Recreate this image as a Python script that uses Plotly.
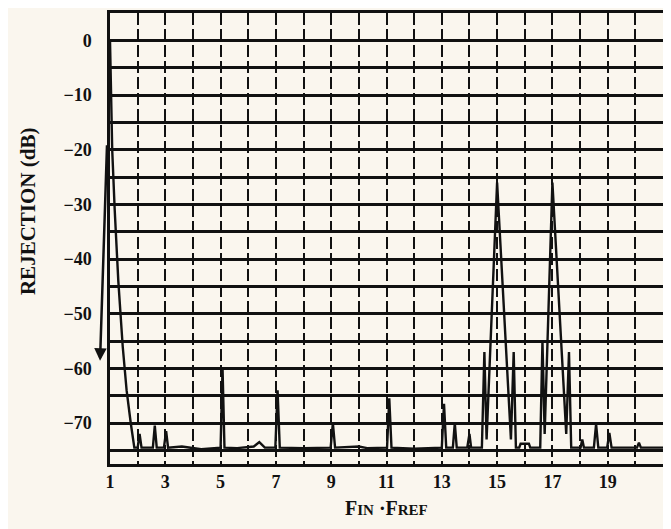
import plotly.graph_objects as go

# ---- data ----
freq_ratio = [1.00, 1.03, 1.08, 1.17, 1.30, 1.46, 1.60, 1.75, 1.88,
              2.00, 2.07, 2.14,
              2.55, 2.62, 2.69,
              2.95, 3.03, 3.10,
              3.60, 4.30, 4.95,
              5.00, 5.07, 5.14,
              5.60, 6.20, 6.40, 6.60,
              6.98, 7.06, 7.14,
              8.00, 8.98, 9.06, 9.14,
              10.00, 10.30, 11.02, 11.10, 11.18,
              12.00, 13.00, 13.08, 13.16, 13.40, 13.47, 13.54,
              13.92, 14.00, 14.06,
              14.45, 14.54, 14.62, 15.00, 15.50, 15.60, 15.68,
              15.80, 15.85, 16.15, 16.20,
              16.56, 16.64, 16.72, 17.00, 17.50, 17.60, 17.68,
              18.02, 18.08, 18.14, 18.50, 18.58, 18.66,
              18.98, 19.06, 19.14, 20.06, 20.13, 20.20, 21.00]
rejection_db = [0, -10, -20, -31, -44, -56, -64, -70, -74.5,
                -74.5, -72, -74.5,
                -74.5, -70.5, -74.5,
                -74.5, -71.5, -74.5,
                -74.3, -74.8, -74.5,
                -74.5, -60, -74.5,
                -74.6, -74.3, -73.5, -74.5,
                -74.5, -64, -74.5,
                -74.6, -74.5, -70, -74.5,
                -74.3, -74.6, -74.5, -65.5, -74.5,
                -74.7, -74.5, -66.5, -74.5, -74.5, -70, -74.5,
                -74.5, -72, -74.5,
                -74.5, -57, -73, -26, -73, -57, -74.5,
                -74.5, -73.8, -73.8, -74.5,
                -74.5, -55, -72, -26, -72, -57, -74.5,
                -74.5, -73, -74.5, -74.5, -70.2, -74.5,
                -74.5, -71.8, -74.5, -74.5, -73.6, -74.5, -74.5]

x_tick_vals = list(range(1, 22))
x_tick_text = ["1", "", "3", "", "5", "", "7", "", "9", "", "11", "", "13", "",
               "15", "", "17", "", "19", "", ""]
y_tick_vals = [5, 0, -5, -10, -15, -20, -25, -30, -35, -40, -45, -50, -55,
               -60, -65, -70, -75]
y_tick_text = ["", "0", "", "\u221210", "", "\u221220", "", "\u221230", "",
               "\u221240", "", "\u221250", "", "\u221260", "", "\u221270", ""]

bg = "#faf6ee"
ink = "#111111"
serif = "Liberation Serif, Times New Roman, serif"

fig = go.Figure()
fig.add_trace(go.Scatter(x=freq_ratio, y=rejection_db, mode="lines",
                         line=dict(color=ink, width=2.4), hoverinfo="skip",
                         showlegend=False))

fig.update_layout(
    width=663, height=521,
    margin=dict(l=102, r=8, t=2, b=65),
    paper_bgcolor=bg, plot_bgcolor=bg,
    font=dict(family=serif, color=ink),
    xaxis=dict(range=[1, 21], tickmode="array", tickvals=x_tick_vals,
               ticktext=x_tick_text, showgrid=True, gridcolor=ink,
               gridwidth=2, griddash="12px,4px", zeroline=False,
               showline=True, linecolor=ink, linewidth=2.5, mirror=True,
               ticks="", ticklabelstandoff=0,
               tickfont=dict(size=18, family=serif, weight="bold")),
    yaxis=dict(range=[-77.5, 5], tickmode="array", tickvals=y_tick_vals,
               ticktext=y_tick_text, showgrid=True, gridcolor=ink,
               gridwidth=3, zeroline=False,
               showline=True, linecolor=ink, linewidth=2.5, mirror=True,
               ticks="", ticklabelstandoff=12,
               tickfont=dict(size=18, family=serif, weight="bold")),
    annotations=[
        dict(text="<b>REJECTION (dB)</b>", textangle=-90, xref="paper",
             yref="paper", x=-0.148, y=0.559, xanchor="center",
             yanchor="middle", showarrow=False,
             font=dict(size=21, family=serif, color=ink)),
        dict(text="<b>F<span style='font-size:15px'>IN</span> \u00b7F"
                  "<span style='font-size:15px'>REF</span></b>",
             xref="paper", yref="paper", x=0.5, y=-0.097,
             xanchor="center", yanchor="middle",
             showarrow=False, font=dict(size=20, family=serif, color=ink)),
        dict(text="", xref="paper", yref="paper", x=-0.018, y=0.229,
             axref="pixel", ayref="pixel", ax=7, ay=-217, showarrow=True,
             arrowhead=2, arrowsize=1, arrowwidth=2.5, arrowcolor=ink),
    ],
)

fig.write_html("out.html")
